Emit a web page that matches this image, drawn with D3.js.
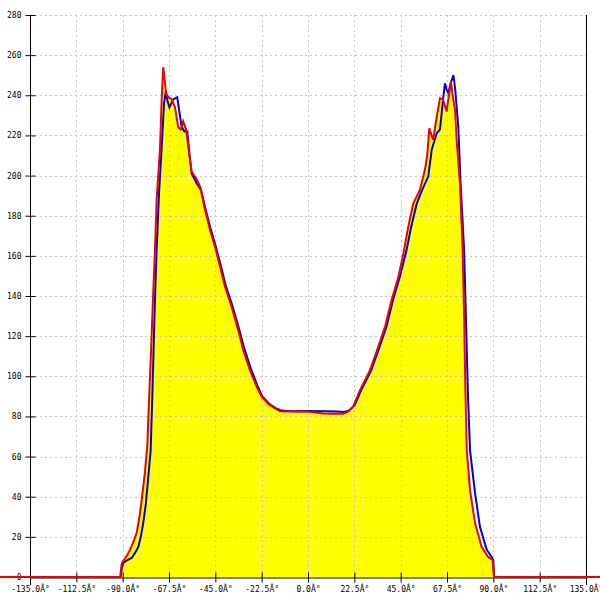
<!DOCTYPE html>
<html><head><meta charset="utf-8">
<script src="https://cdn.jsdelivr.net/npm/d3@7"></script>
<style>body{margin:0;background:#fff}svg{display:block}</style>
</head><body>
<script>
const xTicks = [-135,-112.5,-90,-67.5,-45,-22.5,0,22.5,45,67.5,90,112.5,135];
const yTicks = [0,20,40,60,80,100,120,140,160,180,200,220,240,260,280];

const redAngles = [-150,-91.2,-90.6,-90,-88,-86.4,-84.8,-83.2,-82,-80.8,-79.2,-78,-77.2,-76.2,-75.3,-74.3,-73.5,-71.9,-71.05,-70.3,-69.4,-69,-67.8,-66.2,-64.6,-63,-61.8,-60.6,-59.2,-58.1,-56.5,-54,-52.4,-50,-47.6,-45.2,-42.7,-40.3,-37.1,-33.9,-31.4,-28.2,-24.9,-22.5,-19,-16,-13.6,-8,-0.6,4,7.4,12,17.1,19.5,22,25.2,30.1,34.1,37.4,40.6,43.9,46.3,48.7,51.1,54.4,56.8,57.9,58.9,60.8,62.3,64.1,65.5,67.3,69.4,70.2,71.4,72.2,73.8,75.1,75.8,76.4,77.1,78.7,81.1,84.3,87.5,89.7,90.3,150];
const redValues = [0,0,6,7.6,10.5,13.5,17.5,22,29,38,52,66,88,113,138,163,188,213,238,254,246,241,239,238,234,224,223,227,223,214,202,198,194.5,183,173,164.6,154.6,144.6,134.7,123,113,103,94.8,89.8,86,84,82.6,82.4,82.4,82,81.5,81.3,81.3,82.5,85,93,103,114.7,124.7,138,149.6,161,174.5,186,193,203,210,223.5,217.7,228,238.5,238,232,246.8,240,232.7,217.7,196,163,130,95,63,43,27,15,10,8.5,0,0];

const blueAngles = [-91,-90.3,-89.7,-87.5,-85.6,-84,-82.4,-81.2,-80,-78.8,-77.8,-76.4,-75.6,-74.8,-74.1,-73.5,-72.4,-71.1,-69.9,-69,-68.2,-67.3,-65.4,-63.5,-62.5,-61.3,-60,-58.6,-57.5,-56.5,-54,-52,-49.8,-47.4,-45,-42.4,-40,-36.8,-33.6,-31,-27.8,-24.6,-22.2,-18.5,-15.5,-13,-8,0,8,14,17.5,20,22.6,25.8,30.7,34.8,38.1,41.3,44.6,47.9,50,52.8,55.5,58.4,60.1,62.5,64.1,65.7,66.5,67.3,68.1,69.3,70.6,71.4,73,74.1,75.8,76.8,77.7,78.7,81.1,83.5,86.8,89.2,90,90.4,91];
const blueValues = [0,5,7,8.5,9.5,12,15,20,27,36,47,63,90,120,145,163,190,213,236,242,237,234,238,239,232,224,222,222,210,201,196,193,183.5,174,165.5,155.5,145.5,135.5,124,114,104,95.5,90,86,84,83,82.6,82.7,82.6,82.5,82.2,83,85.5,93,103,114.7,124.7,138,149.6,163,174,186,193,199.5,213,221,223,239,246,243,241,246,250,244,224,196,163,125,90,63,42,25,13.5,10,8.5,0,0];

const W = 600, H = 600;
const x = d3.scaleLinear().domain([-135,135]).range([30,586]);
const y = d3.scaleLinear().domain([0,280]).range([577,15]);

const svg = d3.select("body").append("svg").attr("width",W).attr("height",H);

const red = redAngles.map((a,i)=>[a,redValues[i]]);
const blue = blueAngles.map((a,i)=>[a,blueValues[i]]);

// area
svg.append("path").datum(red)
  .attr("fill","#ffff00")
  .attr("d", d3.area().x(d=>x(d[0])).y0(y(0)).y1(d=>y(d[1])));

// grid
const grid = svg.append("g").attr("stroke","#c4c4c4").attr("stroke-width",1).attr("stroke-dasharray","2,3");
grid.selectAll(".gx").data(xTicks.slice(1,-1)).enter().append("line")
  .attr("x1",d=>Math.round(x(d))+0.5).attr("x2",d=>Math.round(x(d))+0.5)
  .attr("y1",y(280)).attr("y2",y(0));
grid.selectAll(".gy").data(yTicks.slice(1)).enter().append("line")
  .attr("x1",x(-135)).attr("x2",x(135))
  .attr("y1",d=>Math.round(y(d))+0.5).attr("y2",d=>Math.round(y(d))+0.5);

// axes
const fontFam = "'DejaVu Sans Mono', monospace";
const xAxis = svg.append("g").attr("transform",`translate(0,${Math.round(y(0))+0.5})`)
  .call(d3.axisBottom(x).tickValues(xTicks).tickSize(5).tickSizeOuter(0).tickFormat(d=>d.toFixed(1)+"Â°"));
xAxis.selectAll(".tick line").attr("y1",-5).attr("y2",5).attr("stroke","#000");
xAxis.select(".domain").attr("stroke","#000");
xAxis.selectAll("text").attr("font-family",fontFam).attr("font-size",8).attr("fill","#000").attr("y",9);

const yAxis = svg.append("g").attr("transform",`translate(${Math.round(x(-135))+0.5},0)`)
  .call(d3.axisLeft(y).tickValues(yTicks).tickSize(5).tickSizeOuter(0));
yAxis.selectAll(".tick line").attr("x1",-5).attr("x2",5).attr("stroke","#000");
yAxis.select(".domain").attr("stroke","#000").attr("d",`M0,${y(280)}V${y(0)+8}`);
yAxis.selectAll("text").attr("font-family",fontFam).attr("font-size",8).attr("fill","#000").attr("x",-9);

// right border
svg.append("line").attr("x1",Math.round(x(135))+0.5).attr("x2",Math.round(x(135))+0.5)
  .attr("y1",y(280)).attr("y2",y(0)+8).attr("stroke","#000");

// lines
const line = d3.line().x(d=>x(d[0])).y(d=>y(d[1]));
svg.append("path").datum(blue).attr("fill","none").attr("stroke","#0000dd").attr("stroke-width",2).attr("d",line);
svg.append("path").datum(red).attr("fill","none").attr("stroke","#ee0000").attr("stroke-width",2).attr("d",line);
</script>
</body></html>
